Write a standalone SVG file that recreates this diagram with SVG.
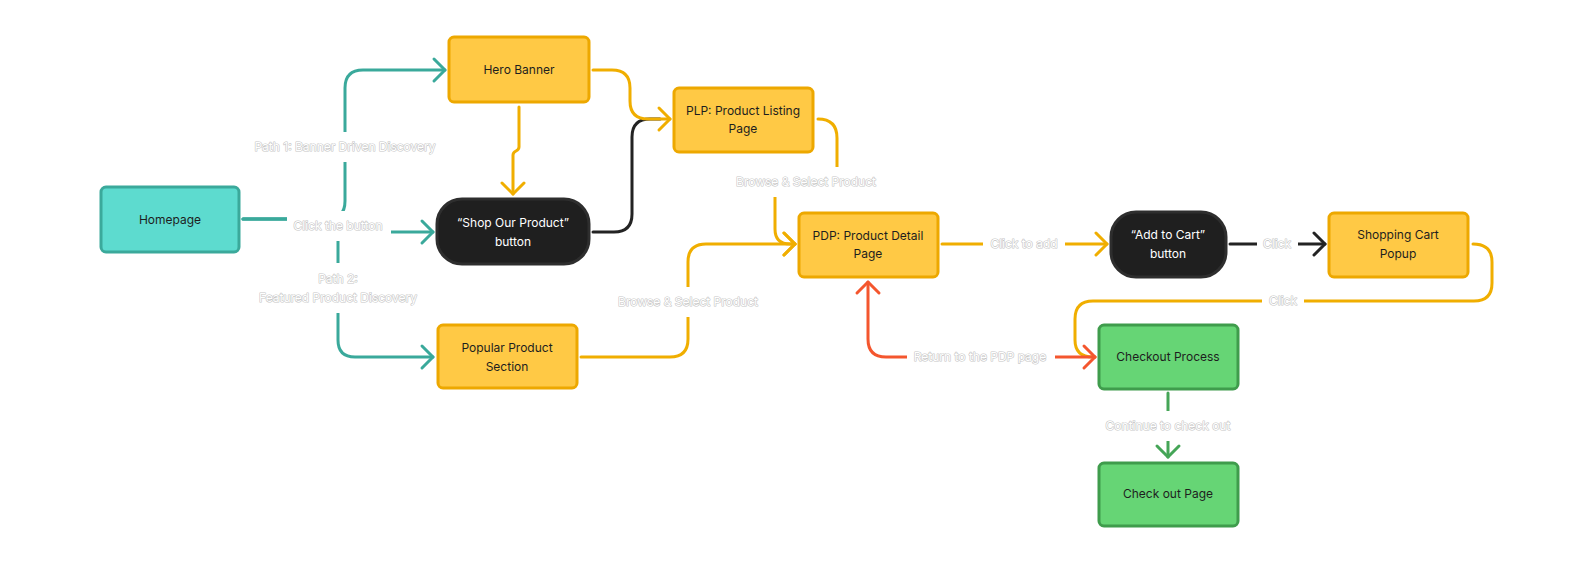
<svg xmlns="http://www.w3.org/2000/svg" width="1594" height="564" viewBox="0 0 1594 564">
<style>
.n{stroke-width:3}
.teal{fill:#5DDBCF;stroke:#3BA99B}
.yel{fill:#FFC945;stroke:#EDA800}
.blk{fill:#1F1F1F;stroke:#2E2E2E}
.grn{fill:#66D575;stroke:#3F9C4C}
.t{font-family:Inter,"Noto Sans","Liberation Sans",sans-serif;font-size:12px;text-anchor:middle;fill:#1E1E1E}
.tw{fill:#FFFFFF}
.c{fill:none;stroke-width:3;stroke-linecap:round;stroke-linejoin:round}
.ct{stroke:#3AA99B}
.cy{stroke:#F0AE00}
.cb{stroke:#232323}
.cr{stroke:#F4562E}
.cg{stroke:#45A557}
.lb{fill:#FFFFFF}
.l{font-family:Inter,"Noto Sans","Liberation Sans",sans-serif;font-size:12px;text-anchor:middle;fill:#FFFFFF;stroke:#C6C6C6;stroke-width:1.2;paint-order:stroke;stroke-linejoin:round}
</style>
<defs>
<marker id="aT" markerUnits="userSpaceOnUse" markerWidth="30" markerHeight="30" viewBox="-15 -15 30 30" refX="0" refY="0" orient="auto"><path d="M-11,-11 L0,0 L-11,11" fill="none" stroke="#3AA99B" stroke-width="3" stroke-linecap="round" stroke-linejoin="round"/></marker>
<marker id="aY" markerUnits="userSpaceOnUse" markerWidth="30" markerHeight="30" viewBox="-15 -15 30 30" refX="0" refY="0" orient="auto"><path d="M-11,-11 L0,0 L-11,11" fill="none" stroke="#F0AE00" stroke-width="3" stroke-linecap="round" stroke-linejoin="round"/></marker>
<marker id="aB" markerUnits="userSpaceOnUse" markerWidth="30" markerHeight="30" viewBox="-15 -15 30 30" refX="0" refY="0" orient="auto"><path d="M-11,-11 L0,0 L-11,11" fill="none" stroke="#232323" stroke-width="3" stroke-linecap="round" stroke-linejoin="round"/></marker>
<marker id="aR" markerUnits="userSpaceOnUse" markerWidth="30" markerHeight="30" viewBox="-15 -15 30 30" refX="0" refY="0" orient="auto-start-reverse"><path d="M-11,-11 L0,0 L-11,11" fill="none" stroke="#F4562E" stroke-width="3" stroke-linecap="round" stroke-linejoin="round"/></marker>
<marker id="aG" markerUnits="userSpaceOnUse" markerWidth="30" markerHeight="30" viewBox="-15 -15 30 30" refX="0" refY="0" orient="auto"><path d="M-11,-11 L0,0 L-11,11" fill="none" stroke="#45A557" stroke-width="3" stroke-linecap="round" stroke-linejoin="round"/></marker>
</defs>
<rect width="1594" height="564" fill="#FFFFFF"/>
<g id="connectors">
<path class="c ct" d="M243,219 H327 Q345,219 345,201 V88 Q345,70 363,70 H445" marker-end="url(#aT)"/>
<path class="c ct" d="M243,219 H330 Q338,219 338,226 Q338,232 346,232 H433" marker-end="url(#aT)"/>
<path class="c ct" d="M243,219 H320 Q338,219 338,237 V340 Q338,357 355,357 H433" marker-end="url(#aT)"/>
<path class="c cy" d="M519,107 V147 C519,152 513,150 513,155 V194" marker-end="url(#aY)"/>
<path class="c cb" d="M593,232 H614 Q632,232 632,214 V137 Q632,119 650,119 H660"/>
<path class="c cy" d="M593,70 H612 Q630,70 630,88 V101 Q630,119 648,119 H670" marker-end="url(#aY)"/>
<path class="c cy" d="M818,119 Q837,119 837,138 V182 H775 V229 Q775,244 790,244 H795" marker-end="url(#aY)"/>
<path class="c cy" d="M581,357 H670 Q688,357 688,339 V262 Q688,244 706,244 H795" marker-end="url(#aY)"/>
<path class="c cy" d="M942,244 H1107" marker-end="url(#aY)"/>
<path class="c cb" d="M1230,244 H1325" marker-end="url(#aB)"/>
<path class="c cy" d="M1473,244 Q1492,244 1492,262 V283 Q1492,301 1474,301 H1093 Q1075,301 1075,319 V340 Q1075,357 1093,357 H1095"/>
<path class="c cr" d="M1095,357 H886 Q868,357 868,339 V282" marker-start="url(#aR)" marker-end="url(#aR)"/>
<path class="c cg" d="M1168,393 V457" marker-end="url(#aG)"/>
</g>
<g id="labels">
<rect class="lb" x="250" y="132" width="190" height="30"/>
<text class="l" x="345" y="151">Path 1: Banner Driven Discovery</text>
<rect class="lb" x="287" y="211" width="104" height="30"/>
<text class="l" x="338" y="230">Click the button</text>
<rect class="lb" x="252" y="263" width="172" height="50"/>
<text class="l" x="338" y="283">Path 2:</text>
<text class="l" x="338" y="302">Featured Product Discovery</text>
<rect class="lb" x="728" y="167" width="156" height="30"/>
<text class="l" x="806" y="186">Browse &amp; Select Product</text>
<rect class="lb" x="610" y="287" width="156" height="30"/>
<text class="l" x="688" y="306">Browse &amp; Select Product</text>
<rect class="lb" x="983" y="229" width="82" height="30"/>
<text class="l" x="1024" y="248">Click to add</text>
<rect class="lb" x="1257" y="229" width="41" height="30"/>
<text class="l" x="1277" y="248">Click</text>
<rect class="lb" x="1262" y="286" width="42" height="30"/>
<text class="l" x="1283" y="305">Click</text>
<rect class="lb" x="907" y="342" width="148" height="30"/>
<text class="l" x="980" y="361">Return to the PDP page</text>
<rect class="lb" x="1090" y="411" width="156" height="30"/>
<text class="l" x="1168" y="430">Continue to check out</text>
</g>
<g id="homepage"><rect class="n teal" x="101" y="187" width="138" height="65" rx="5"/><text class="t" x="170" y="224">Homepage</text></g>
<g id="hero-banner"><rect class="n yel" x="449" y="37" width="140" height="65" rx="5"/><text class="t" x="519" y="74">Hero Banner</text></g>
<g id="shop-button"><rect class="n blk" x="437" y="199" width="152" height="65" rx="25"/><text class="t tw" x="513" y="227">“Shop Our Product”</text><text class="t tw" x="513" y="246">button</text></g>
<g id="plp"><rect class="n yel" x="674" y="88" width="139" height="64" rx="5"/><text class="t" x="743" y="115">PLP: Product Listing</text><text class="t" x="743" y="133">Page</text></g>
<g id="popular"><rect class="n yel" x="438" y="325" width="139" height="63" rx="5"/><text class="t" x="507" y="352">Popular Product</text><text class="t" x="507" y="371">Section</text></g>
<g id="pdp"><rect class="n yel" x="799" y="213" width="139" height="64" rx="5"/><text class="t" x="868" y="240">PDP: Product Detail</text><text class="t" x="868" y="258">Page</text></g>
<g id="add-to-cart"><rect class="n blk" x="1111" y="212" width="115" height="65" rx="25"/><text class="t tw" x="1168" y="239">“Add to Cart”</text><text class="t tw" x="1168" y="258">button</text></g>
<g id="shopping-cart"><rect class="n yel" x="1329" y="213" width="139" height="64" rx="5"/><text class="t" x="1398" y="239">Shopping Cart</text><text class="t" x="1398" y="258">Popup</text></g>
<g id="checkout-process"><rect class="n grn" x="1099" y="325" width="139" height="64" rx="5"/><text class="t" x="1168" y="361">Checkout Process</text></g>
<g id="checkout-page"><rect class="n grn" x="1099" y="463" width="139" height="63" rx="5"/><text class="t" x="1168" y="498">Check out Page</text></g>
</svg>
